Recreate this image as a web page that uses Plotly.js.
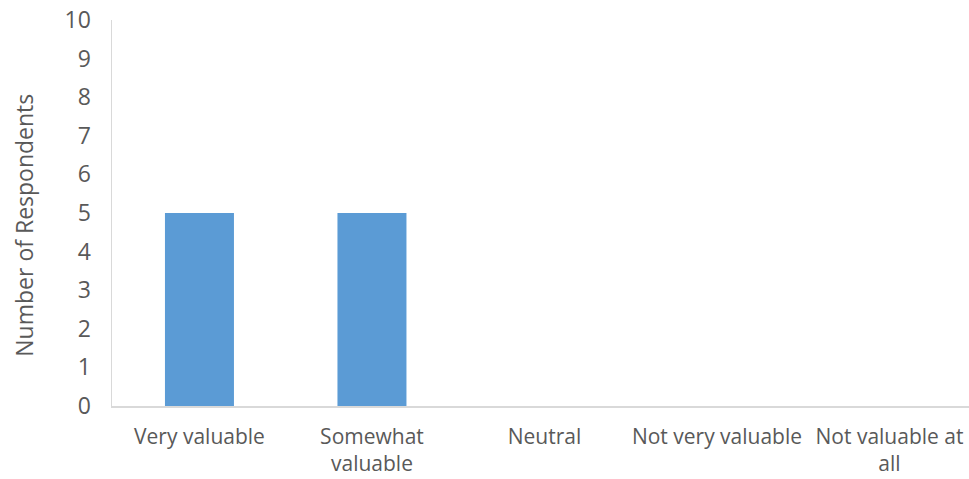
<!DOCTYPE html>
<html>
<head>
<meta charset="utf-8">
<script src="https://cdn.plot.ly/plotly-3.0.1.min.js"></script>
<style>
  html, body { margin: 0; padding: 0; background: #fff; }
  #chart { width: 969px; height: 479px; }
</style>
</head>
<body>
<div id="chart"></div>
<script>
// Survey responses: how valuable respondents found the resource
const categories = ["Very valuable", "Somewhat<br>valuable", "Neutral", "Not very valuable", "Not valuable at<br>all"];
const respondents = [5, 5, 0, 0, 0];
const yTicks = [0, 1, 2, 3, 4, 5, 6, 7, 8, 9, 10];
const yTitle = "Number of Respondents";

const textColor = "#595959";
const fontFamily = "'Open Sans', sans-serif";

const trace = {
  type: "bar",
  x: categories,
  y: respondents,
  marker: { color: "#5B9BD5" },
  hoverinfo: "x+y"
};

const layout = {
  width: 969,
  height: 479,
  margin: { l: 112, r: 0, t: 20, b: 73 },
  paper_bgcolor: "#ffffff",
  plot_bgcolor: "#ffffff",
  bargap: 0.6,
  showlegend: false,
  font: { family: fontFamily, color: textColor, size: 18 },
  xaxis: {
    type: "category",
    range: [-0.507, 4.461],
    showline: true,
    linecolor: "#D9D9D9",
    linewidth: 1.5,
    showgrid: false,
    zeroline: false,
    ticks: "",
    ticklabelstandoff: 11,
    tickfont: { family: fontFamily, size: 21, color: textColor }
  },
  yaxis: {
    range: [0, 10],
    tickvals: yTicks,
    ticktext: yTicks.map(String),
    showline: true,
    linecolor: "#D9D9D9",
    linewidth: 1.5,
    showgrid: false,
    zeroline: false,
    ticks: "",
    ticklabelstandoff: 15,
    tickfont: { family: fontFamily, size: 23, color: textColor }
  },
  // vertical axis title, placed a little below the plot's middle
  annotations: [{
    text: yTitle,
    xref: "paper",
    yref: "paper",
    x: -0.103,
    y: 0.469,
    xanchor: "center",
    yanchor: "middle",
    textangle: -90,
    showarrow: false,
    font: { family: fontFamily, size: 23, color: textColor }
  }]
};

Plotly.newPlot("chart", [trace], layout, { displayModeBar: false, staticPlot: true });
</script>
</body>
</html>
